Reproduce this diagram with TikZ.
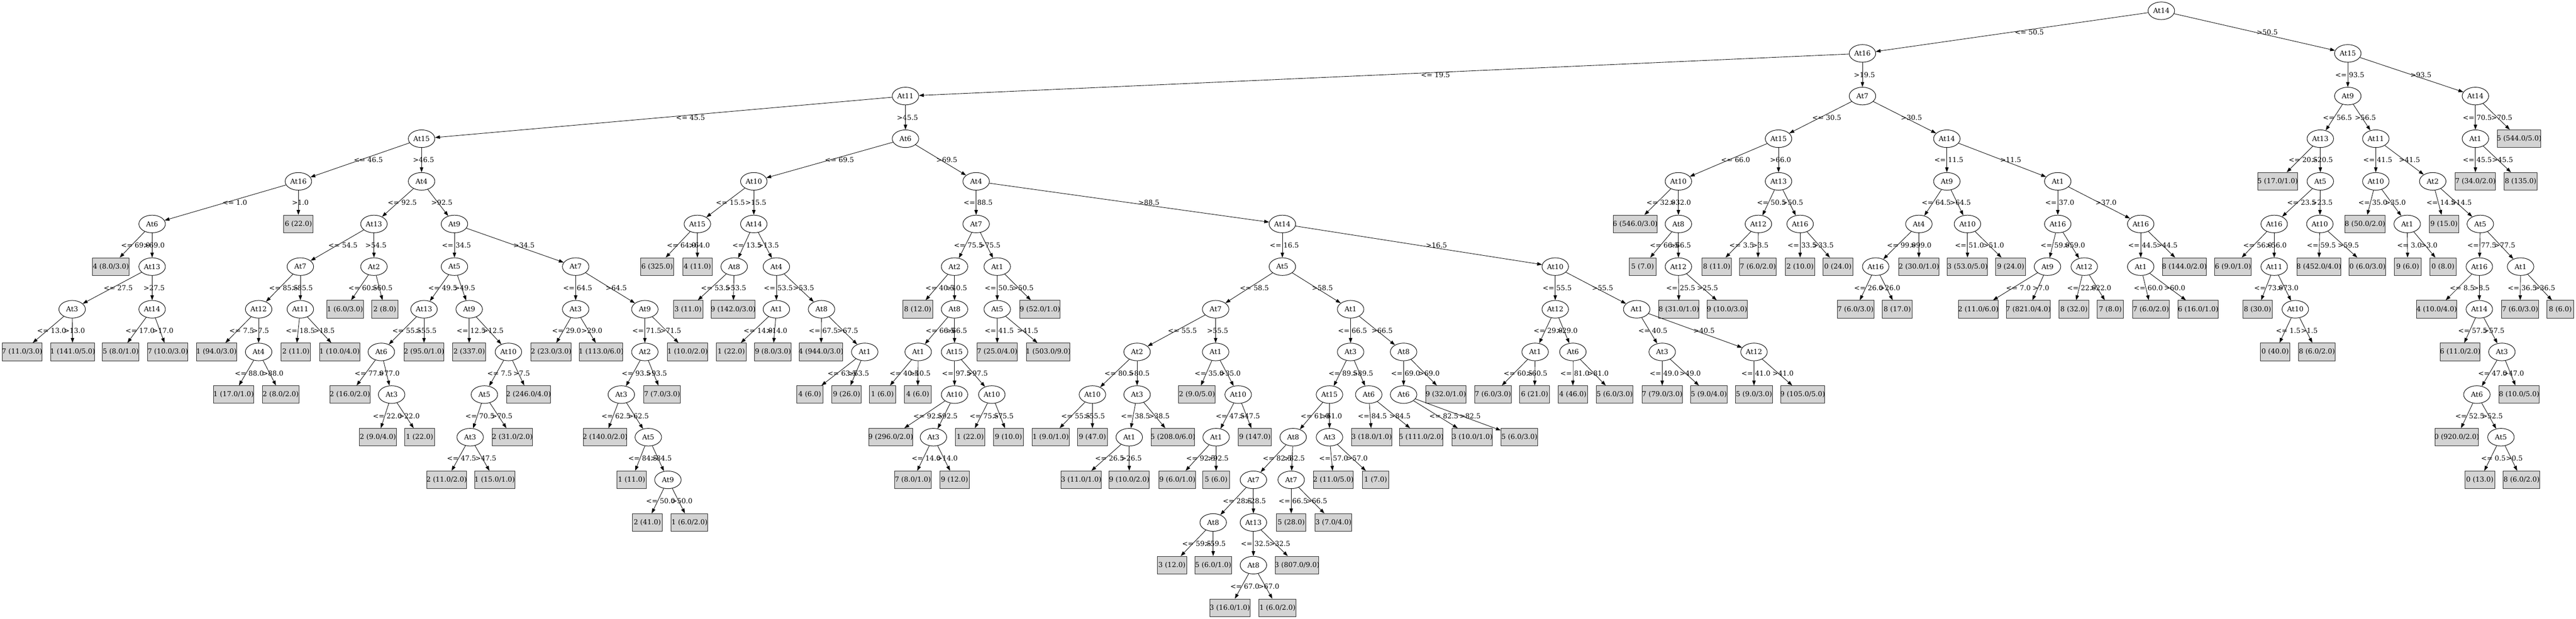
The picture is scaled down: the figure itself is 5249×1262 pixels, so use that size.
\documentclass[tikz,border=0pt]{standalone}
\usepackage{fontspec}
\setmainfont{DejaVu Serif}
\newfontfamily\tmsf{Liberation Serif}
\usetikzlibrary{shapes.geometric,arrows.meta}
\definecolor{lgray}{RGB}{211,211,211}
\newlength\mytw
\newlength\wLl
\newlength\wRl
\newdimen\xP \newdimen\yP \newdimen\xL \newdimen\yL \newdimen\xR
\newcommand\gvf{\fontsize{14}{16}\selectfont}
\newcommand\lf[1]{\settowidth\mytw{\gvf\tmsf #1}\makebox[\mytw][c]{#1}}
\newcommand\inod[4]{\node[inode] (#1) at (#2,{22+87*#3}) {#4};}
\newcommand\lnod[4]{\node[leafbox] (#1) at (#2,{22+87*#3}) {\lf{#4}};}
\newcommand\tedge[5]{%
 \settowidth\wLl{\gvf\tmsf #4}\settowidth\wRl{\gvf\tmsf #5}%
 \pgfextractx{\xP}{\pgfpointanchor{#1}{center}}%
 \pgfextracty{\yP}{\pgfpointanchor{#1}{center}}%
 \pgfextractx{\xL}{\pgfpointanchor{#2}{center}}%
 \pgfextracty{\yL}{\pgfpointanchor{#2}{center}}%
 \pgfextractx{\xR}{\pgfpointanchor{#3}{center}}%
 \pgfmathsetmacro\myym{(\yP+\yL)/2}%
 \pgfmathsetmacro\mydy{abs(\yP-\yL)}%
 \pgfmathsetmacro\mymR{(\xP+\xR)/2}%
 \pgfmathsetmacro\mymL{(\xP+\xL)/2}%
 \pgfmathsetmacro\mysL{abs(\xL-\xP)/\mydy}%
 \pgfmathsetmacro\mysR{abs(\xR-\xP)/\mydy}%
 \pgfmathsetmacro\mygL{ifthenelse(\xL>\xP,4+5*\mysL,4+4.5*\mysL)}%
 \pgfmathsetmacro\mygR{ifthenelse(\xR>\xP,4+5*\mysR,4+4.5*\mysR)}%
 \pgfmathsetmacro\myVL{min(\mymL,\mymR-7-\wLl-\mygL)}%
 \pgfmathsetmacro\mycL{\myVL+\mygL+\wLl/2}%
 \pgfmathsetmacro\mycR{\mymR+\mygR+\wRl/2}%
 \pgfmathsetmacro\myQx{2*\myVL-\mymL}%
 \draw[conn] (#1) .. controls (\myQx pt,\myym pt) .. (#2);
 \draw[conn] (#1) -- (#3);
 \node[elab] (#2l) at (\mycL pt,\myym pt) {#4};
 \node[elab] (#3l) at (\mycR pt,\myym pt) {#5};
}
\tikzset{
 inode/.style={ellipse, draw, line width=1pt, minimum width=54pt, minimum height=36pt, inner sep=0pt, fill=white},
 leafbox/.style={rectangle, draw=black!85, line width=1pt, fill=lgray, minimum width=54pt, minimum height=36pt, inner xsep=8pt, inner ysep=0pt},
 conn/.style={line width=0.9pt, -{Triangle[length=10pt,width=7pt]}},
 elab/.style={inner sep=0pt},
}
\begin{document}
\begin{tikzpicture}[x=1pt,y=-1pt,font=\gvf]
\useasboundingbox[fill=white] (0,0) rectangle (5249,1262);
% ---------- internal nodes ----------
\inod{r}{4404}{0}{At14}
\inod{a}{3795}{1}{At16}
\inod{b}{4784}{1}{At15}
\inod{b1}{4784}{2}{At9}
\inod{b2}{5044}{2}{At14}
\inod{b21}{5044}{3}{At1}
\inod{b11}{4728}{3}{At13}
\inod{b12}{4841}{3}{At11}
\inod{b112}{4728}{4}{At5}
\inod{c1}{4634}{5}{At16}
\inod{c2}{4727}{5}{At10}
\inod{c12}{4634}{6}{At11}
\inod{c122}{4677}{7}{At10}
\inod{d1}{4841}{4}{At10}
\inod{d2}{4957}{4}{At2}
\inod{d12}{4905}{5}{At1}
\inod{d22}{5054}{5}{At5}
\inod{e1}{5052}{6}{At16}
\inod{e2}{5136}{6}{At1}
\inod{e12}{5052}{7}{At14}
\inod{e122}{5098}{8}{At3}
\inod{e1221}{5047}{9}{At6}
\inod{f}{5096}{10}{At5}
\inod{a1}{1845}{2}{At11}
\inod{a2}{3795}{2}{At7}
\inod{g1}{3624}{3}{At15}
\inod{g2}{3967}{3}{At14}
\inod{g11}{3420}{4}{At10}
\inod{g12}{3624}{4}{At13}
\inod{g112}{3420}{5}{At8}
\inod{g1122}{3420}{6}{At12}
\inod{g121}{3583}{5}{At12}
\inod{g122}{3668}{5}{At16}
\inod{h1}{3967}{4}{At9}
\inod{h2}{4193}{4}{At1}
\inod{h11}{3910}{5}{At4}
\inod{h12}{4009}{5}{At10}
\inod{h111}{3822}{6}{At16}
\inod{h21}{4193}{5}{At16}
\inod{h22}{4362}{5}{At16}
\inod{h211}{4172}{6}{At9}
\inod{h212}{4247}{6}{At12}
\inod{h221}{4362}{6}{At1}
\inod{i1}{859}{3}{At15}
\inod{i2}{1845}{3}{At6}
\inod{j1}{608}{4}{At16}
\inod{j2}{859}{4}{At4}
\inod{j11}{310}{5}{At6}
\inod{j112}{310}{6}{At13}
\inod{j1121}{147}{7}{At3}
\inod{j1122}{310}{7}{At14}
\inod{k1}{762}{5}{At13}
\inod{k2}{926}{5}{At9}
\inod{k11}{612}{6}{At7}
\inod{k12}{762}{6}{At2}
\inod{k111}{527}{7}{At12}
\inod{k112}{612}{7}{At11}
\inod{k1112}{527}{8}{At4}
\inod{m1}{926}{6}{At5}
\inod{m2}{1173}{6}{At7}
\inod{m11}{864}{7}{At13}
\inod{m12}{956}{7}{At9}
\inod{m111}{777}{8}{At6}
\inod{m1112}{798}{9}{At3}
\inod{m122}{1036}{8}{At10}
\inod{m1221}{987}{9}{At5}
\inod{m12211}{958}{10}{At3}
\inod{m21}{1173}{7}{At3}
\inod{m22}{1314}{7}{At9}
\inod{m221}{1314}{8}{At2}
\inod{m2211}{1266}{9}{At3}
\inod{m22112}{1321}{10}{At5}
\inod{m221122}{1361}{11}{At9}
\inod{n1}{1536}{4}{At10}
\inod{n2}{1989}{4}{At4}
\inod{n11}{1421}{5}{At15}
\inod{n12}{1536}{5}{At14}
\inod{n121}{1496}{6}{At8}
\inod{n122}{1582}{6}{At4}
\inod{n1221}{1582}{7}{At1}
\inod{n1222}{1674}{7}{At8}
\inod{n12222}{1762}{8}{At1}
\inod{o1}{1989}{5}{At7}
\inod{o2}{2613}{5}{At14}
\inod{o11}{1945}{6}{At2}
\inod{o12}{2032}{6}{At1}
\inod{o112}{1945}{7}{At8}
\inod{o1121}{1871}{8}{At1}
\inod{o1122}{1945}{8}{At15}
\inod{p1}{1945}{9}{At10}
\inod{p2}{2021}{9}{At10}
\inod{p12}{1902}{10}{At3}
\inod{o121}{2032}{7}{At5}
\inod{q1}{2613}{6}{At5}
\inod{q2}{3169}{6}{At10}
\inod{q11}{2477}{7}{At7}
\inod{q12}{2752}{7}{At1}
\inod{q111}{2317}{8}{At2}
\inod{q112}{2477}{8}{At1}
\inod{q1111}{2226}{9}{At10}
\inod{q1112}{2317}{9}{At3}
\inod{q11121}{2301}{10}{At1}
\inod{q1122}{2523}{9}{At10}
\inod{q11221}{2478}{10}{At1}
\inod{q121}{2752}{8}{At3}
\inod{q122}{2860}{8}{At8}
\inod{q1211}{2709}{9}{At15}
\inod{q1212}{2789}{9}{At6}
\inod{q12111}{2635}{10}{At8}
\inod{q12112}{2709}{10}{At3}
\inod{r1}{2554}{11}{At7}
\inod{r2}{2631}{11}{At7}
\inod{r11}{2472}{12}{At8}
\inod{r12}{2554}{12}{At13}
\inod{r121}{2554}{13}{At8}
\inod{q1221}{2860}{9}{At6}
\inod{s1}{3169}{7}{At12}
\inod{s2}{3335}{7}{At1}
\inod{s11}{3128}{8}{At1}
\inod{s12}{3205}{8}{At6}
\inod{s21}{3387}{8}{At3}
\inod{s22}{3574}{8}{At12}
% ---------- leaves ----------
\lnod{b22}{5133}{3}{5 (544.0/5.0)}
\lnod{b211}{5044}{4}{7 (34.0/2.0)}
\lnod{b212}{5136}{4}{8 (135.0)}
\lnod{b111}{4641}{4}{5 (17.0/1.0)}
\lnod{c11}{4550}{6}{6 (9.0/1.0)}
\lnod{c121}{4600}{7}{8 (30.0)}
\lnod{c1221}{4636}{8}{0 (40.0)}
\lnod{c1222}{4721}{8}{8 (6.0/2.0)}
\lnod{c21}{4725}{6}{8 (452.0/4.0)}
\lnod{c22}{4824}{6}{0 (6.0/3.0)}
\lnod{d11}{4819}{5}{8 (50.0/2.0)}
\lnod{d121}{4906}{6}{9 (6.0)}
\lnod{d122}{4978}{6}{0 (8.0)}
\lnod{d21}{4980}{5}{9 (15.0)}
\lnod{e11}{4965}{7}{4 (10.0/4.0)}
\lnod{e121}{5013}{8}{6 (11.0/2.0)}
\lnod{e1222}{5133}{9}{8 (10.0/5.0)}
\lnod{e12211}{5006}{10}{0 (920.0/2.0)}
\lnod{f1}{5053}{11}{0 (13.0)}
\lnod{f2}{5138}{11}{8 (6.0/2.0)}
\lnod{e21}{5135}{7}{7 (6.0/3.0)}
\lnod{e22}{5217}{7}{8 (6.0)}
\lnod{g111}{3332}{5}{6 (546.0/3.0)}
\lnod{g1121}{3347}{6}{5 (7.0)}
\lnod{g11221}{3421}{7}{8 (31.0/1.0)}
\lnod{g11222}{3519}{7}{9 (10.0/3.0)}
\lnod{g1211}{3498}{6}{8 (11.0)}
\lnod{g1212}{3582}{6}{7 (6.0/2.0)}
\lnod{g1221}{3668}{6}{2 (10.0)}
\lnod{g1222}{3745}{6}{0 (24.0)}
\lnod{h112}{3910}{6}{2 (30.0/1.0)}
\lnod{h1111}{3781}{7}{7 (6.0/3.0)}
\lnod{h1112}{3866}{7}{8 (17.0)}
\lnod{h121}{4009}{6}{3 (53.0/5.0)}
\lnod{h122}{4097}{6}{9 (24.0)}
\lnod{h2111}{4031}{7}{2 (11.0/6.0)}
\lnod{h2112}{4133}{7}{7 (821.0/4.0)}
\lnod{h2121}{4226}{7}{8 (32.0)}
\lnod{h2122}{4300}{7}{7 (8.0)}
\lnod{h222}{4451}{6}{8 (144.0/2.0)}
\lnod{h2211}{4383}{7}{7 (6.0/2.0)}
\lnod{h2212}{4479}{7}{6 (16.0/1.0)}
\lnod{j12}{608}{5}{6 (22.0)}
\lnod{j111}{226}{6}{4 (8.0/3.0)}
\lnod{j11211}{45}{8}{7 (11.0/3.0)}
\lnod{j11212}{148}{8}{1 (141.0/5.0)}
\lnod{j11221}{246}{8}{5 (8.0/1.0)}
\lnod{j11222}{342}{8}{7 (10.0/3.0)}
\lnod{k1111}{441}{8}{1 (94.0/3.0)}
\lnod{k11121}{476}{9}{1 (17.0/1.0)}
\lnod{k11122}{572}{9}{2 (8.0/2.0)}
\lnod{k1121}{603}{8}{2 (11.0)}
\lnod{k1122}{692}{8}{1 (10.0/4.0)}
\lnod{k121}{703}{7}{1 (6.0/3.0)}
\lnod{k122}{784}{7}{2 (8.0)}
\lnod{m112}{864}{8}{2 (95.0/1.0)}
\lnod{m1111}{713}{9}{2 (16.0/2.0)}
\lnod{m11121}{770}{10}{2 (9.0/4.0)}
\lnod{m11122}{855}{10}{1 (22.0)}
\lnod{m121}{956}{8}{2 (337.0)}
\lnod{m1222}{1077}{9}{2 (246.0/4.0)}
\lnod{m12212}{1044}{10}{2 (31.0/2.0)}
\lnod{m122111}{910}{11}{2 (11.0/2.0)}
\lnod{m122112}{1008}{11}{1 (15.0/1.0)}
\lnod{m211}{1123}{8}{2 (23.0/3.0)}
\lnod{m212}{1225}{8}{1 (113.0/6.0)}
\lnod{m222}{1401}{8}{1 (10.0/2.0)}
\lnod{m2212}{1349}{9}{7 (7.0/3.0)}
\lnod{m22111}{1233}{10}{2 (140.0/2.0)}
\lnod{m221121}{1287}{11}{1 (11.0)}
\lnod{m2211221}{1319}{12}{2 (41.0)}
\lnod{m2211222}{1405}{12}{1 (6.0/2.0)}
\lnod{n111}{1339}{6}{6 (325.0)}
\lnod{n112}{1421}{6}{4 (11.0)}
\lnod{n1211}{1402}{7}{3 (11.0)}
\lnod{n1212}{1494}{7}{9 (142.0/3.0)}
\lnod{n12211}{1490}{8}{1 (22.0)}
\lnod{n12212}{1575}{8}{9 (8.0/3.0)}
\lnod{n12221}{1673}{8}{4 (944.0/3.0)}
\lnod{n122221}{1650}{9}{4 (6.0)}
\lnod{n122222}{1725}{9}{9 (26.0)}
\lnod{o111}{1870}{7}{8 (12.0)}
\lnod{o11211}{1798}{9}{1 (6.0)}
\lnod{o11212}{1870}{9}{4 (6.0)}
\lnod{p11}{1815}{10}{9 (296.0/2.0)}
\lnod{p121}{1860}{11}{7 (8.0/1.0)}
\lnod{p122}{1945}{11}{9 (12.0)}
\lnod{p21}{1977}{10}{1 (22.0)}
\lnod{p22}{2055}{10}{9 (10.0)}
\lnod{o122}{2119}{7}{9 (52.0/1.0)}
\lnod{o1211}{2032}{8}{7 (25.0/4.0)}
\lnod{o1212}{2136}{8}{1 (503.0/9.0)}
\lnod{q11111}{2141}{10}{1 (9.0/1.0)}
\lnod{q11112}{2226}{10}{9 (47.0)}
\lnod{q11122}{2390}{10}{5 (208.0/6.0)}
\lnod{q111211}{2203}{11}{3 (11.0/1.0)}
\lnod{q111212}{2301}{11}{9 (10.0/2.0)}
\lnod{q1121}{2439}{9}{2 (9.0/5.0)}
\lnod{q11222}{2557}{10}{9 (147.0)}
\lnod{q112211}{2399}{11}{9 (6.0/1.0)}
\lnod{q112212}{2478}{11}{5 (6.0)}
\lnod{r111}{2388}{13}{3 (12.0)}
\lnod{r112}{2472}{13}{5 (6.0/1.0)}
\lnod{r122}{2643}{13}{3 (807.0/9.0)}
\lnod{r1211}{2506}{14}{3 (16.0/1.0)}
\lnod{r1212}{2603}{14}{1 (6.0/2.0)}
\lnod{r21}{2631}{12}{5 (28.0)}
\lnod{r22}{2717}{12}{3 (7.0/4.0)}
\lnod{q121121}{2717}{11}{2 (11.0/5.0)}
\lnod{q121122}{2803}{11}{1 (7.0)}
\lnod{q12121}{2795}{10}{3 (18.0/1.0)}
\lnod{q12122}{2896}{10}{5 (111.0/2.0)}
\lnod{q12211}{3000}{10}{3 (10.0/1.0)}
\lnod{q12212}{3096}{10}{5 (6.0/3.0)}
\lnod{q1222}{2946}{9}{9 (32.0/1.0)}
\lnod{s111}{3042}{9}{7 (6.0/3.0)}
\lnod{s112}{3127}{9}{6 (21.0)}
\lnod{s121}{3205}{9}{4 (46.0)}
\lnod{s122}{3290}{9}{5 (6.0/3.0)}
\lnod{s211}{3387}{9}{7 (79.0/3.0)}
\lnod{s212}{3482}{9}{5 (9.0/4.0)}
\lnod{s221}{3574}{9}{5 (9.0/3.0)}
\lnod{s222}{3673}{9}{9 (105.0/5.0)}
% ---------- connectors ----------
\tedge{r}{a}{b}{<= 50.5}{>50.5}
\tedge{b}{b1}{b2}{<= 93.5}{>93.5}
\tedge{b2}{b21}{b22}{<= 70.5}{>70.5}
\tedge{b21}{b211}{b212}{<= 45.5}{>45.5}
\tedge{b1}{b11}{b12}{<= 56.5}{>56.5}
\tedge{b11}{b111}{b112}{<= 20.5}{>20.5}
\tedge{b112}{c1}{c2}{<= 23.5}{>23.5}
\tedge{c1}{c11}{c12}{<= 56.0}{>56.0}
\tedge{c12}{c121}{c122}{<= 73.0}{>73.0}
\tedge{c122}{c1221}{c1222}{<= 1.5}{>1.5}
\tedge{c2}{c21}{c22}{<= 59.5}{>59.5}
\tedge{b12}{d1}{d2}{<= 41.5}{>41.5}
\tedge{d1}{d11}{d12}{<= 35.0}{>35.0}
\tedge{d12}{d121}{d122}{<= 3.0}{>3.0}
\tedge{d2}{d21}{d22}{<= 14.5}{>14.5}
\tedge{d22}{e1}{e2}{<= 77.5}{>77.5}
\tedge{e1}{e11}{e12}{<= 8.5}{>8.5}
\tedge{e12}{e121}{e122}{<= 57.5}{>57.5}
\tedge{e122}{e1221}{e1222}{<= 47.0}{>47.0}
\tedge{e1221}{e12211}{f}{<= 52.5}{>52.5}
\tedge{f}{f1}{f2}{<= 0.5}{>0.5}
\tedge{e2}{e21}{e22}{<= 36.5}{>36.5}
\tedge{a}{a1}{a2}{<= 19.5}{>19.5}
\tedge{a2}{g1}{g2}{<= 30.5}{>30.5}
\tedge{g1}{g11}{g12}{<= 66.0}{>66.0}
\tedge{g11}{g111}{g112}{<= 32.0}{>32.0}
\tedge{g112}{g1121}{g1122}{<= 66.5}{>66.5}
\tedge{g1122}{g11221}{g11222}{<= 25.5}{>25.5}
\tedge{g12}{g121}{g122}{<= 50.5}{>50.5}
\tedge{g121}{g1211}{g1212}{<= 3.5}{>3.5}
\tedge{g122}{g1221}{g1222}{<= 33.5}{>33.5}
\tedge{g2}{h1}{h2}{<= 11.5}{>11.5}
\tedge{h1}{h11}{h12}{<= 64.5}{>64.5}
\tedge{h11}{h111}{h112}{<= 99.0}{>99.0}
\tedge{h111}{h1111}{h1112}{<= 26.0}{>26.0}
\tedge{h12}{h121}{h122}{<= 51.0}{>51.0}
\tedge{h2}{h21}{h22}{<= 37.0}{>37.0}
\tedge{h21}{h211}{h212}{<= 59.0}{>59.0}
\tedge{h211}{h2111}{h2112}{<= 7.0}{>7.0}
\tedge{h212}{h2121}{h2122}{<= 22.0}{>22.0}
\tedge{h22}{h221}{h222}{<= 44.5}{>44.5}
\tedge{h221}{h2211}{h2212}{<= 60.0}{>60.0}
\tedge{a1}{i1}{i2}{<= 45.5}{>45.5}
\tedge{i1}{j1}{j2}{<= 46.5}{>46.5}
\tedge{j1}{j11}{j12}{<= 1.0}{>1.0}
\tedge{j11}{j111}{j112}{<= 69.0}{>69.0}
\tedge{j112}{j1121}{j1122}{<= 27.5}{>27.5}
\tedge{j1121}{j11211}{j11212}{<= 13.0}{>13.0}
\tedge{j1122}{j11221}{j11222}{<= 17.0}{>17.0}
\tedge{j2}{k1}{k2}{<= 92.5}{>92.5}
\tedge{k1}{k11}{k12}{<= 54.5}{>54.5}
\tedge{k11}{k111}{k112}{<= 85.5}{>85.5}
\tedge{k111}{k1111}{k1112}{<= 7.5}{>7.5}
\tedge{k1112}{k11121}{k11122}{<= 88.0}{>88.0}
\tedge{k112}{k1121}{k1122}{<= 18.5}{>18.5}
\tedge{k12}{k121}{k122}{<= 60.5}{>60.5}
\tedge{k2}{m1}{m2}{<= 34.5}{>34.5}
\tedge{m1}{m11}{m12}{<= 49.5}{>49.5}
\tedge{m11}{m111}{m112}{<= 55.5}{>55.5}
\tedge{m111}{m1111}{m1112}{<= 77.0}{>77.0}
\tedge{m1112}{m11121}{m11122}{<= 22.0}{>22.0}
\tedge{m12}{m121}{m122}{<= 12.5}{>12.5}
\tedge{m122}{m1221}{m1222}{<= 7.5}{>7.5}
\tedge{m1221}{m12211}{m12212}{<= 70.5}{>70.5}
\tedge{m12211}{m122111}{m122112}{<= 47.5}{>47.5}
\tedge{m2}{m21}{m22}{<= 64.5}{>64.5}
\tedge{m21}{m211}{m212}{<= 29.0}{>29.0}
\tedge{m22}{m221}{m222}{<= 71.5}{>71.5}
\tedge{m221}{m2211}{m2212}{<= 93.5}{>93.5}
\tedge{m2211}{m22111}{m22112}{<= 62.5}{>62.5}
\tedge{m22112}{m221121}{m221122}{<= 84.5}{>84.5}
\tedge{m221122}{m2211221}{m2211222}{<= 50.0}{>50.0}
\tedge{i2}{n1}{n2}{<= 69.5}{>69.5}
\tedge{n1}{n11}{n12}{<= 15.5}{>15.5}
\tedge{n11}{n111}{n112}{<= 64.0}{>64.0}
\tedge{n12}{n121}{n122}{<= 13.5}{>13.5}
\tedge{n121}{n1211}{n1212}{<= 53.5}{>53.5}
\tedge{n122}{n1221}{n1222}{<= 53.5}{>53.5}
\tedge{n1221}{n12211}{n12212}{<= 14.0}{>14.0}
\tedge{n1222}{n12221}{n12222}{<= 67.5}{>67.5}
\tedge{n12222}{n122221}{n122222}{<= 63.5}{>63.5}
\tedge{n2}{o1}{o2}{<= 88.5}{>88.5}
\tedge{o1}{o11}{o12}{<= 75.5}{>75.5}
\tedge{o11}{o111}{o112}{<= 40.5}{>40.5}
\tedge{o112}{o1121}{o1122}{<= 66.5}{>66.5}
\tedge{o1121}{o11211}{o11212}{<= 40.5}{>40.5}
\tedge{o1122}{p1}{p2}{<= 97.5}{>97.5}
\tedge{p1}{p11}{p12}{<= 92.5}{>92.5}
\tedge{p12}{p121}{p122}{<= 14.0}{>14.0}
\tedge{p2}{p21}{p22}{<= 75.5}{>75.5}
\tedge{o12}{o121}{o122}{<= 50.5}{>50.5}
\tedge{o121}{o1211}{o1212}{<= 41.5}{>41.5}
\tedge{o2}{q1}{q2}{<= 16.5}{>16.5}
\tedge{q1}{q11}{q12}{<= 58.5}{>58.5}
\tedge{q11}{q111}{q112}{<= 55.5}{>55.5}
\tedge{q111}{q1111}{q1112}{<= 80.5}{>80.5}
\tedge{q1111}{q11111}{q11112}{<= 55.5}{>55.5}
\tedge{q1112}{q11121}{q11122}{<= 38.5}{>38.5}
\tedge{q11121}{q111211}{q111212}{<= 26.5}{>26.5}
\tedge{q112}{q1121}{q1122}{<= 35.0}{>35.0}
\tedge{q1122}{q11221}{q11222}{<= 47.5}{>47.5}
\tedge{q11221}{q112211}{q112212}{<= 92.5}{>92.5}
\tedge{q12}{q121}{q122}{<= 66.5}{>66.5}
\tedge{q121}{q1211}{q1212}{<= 89.5}{>89.5}
\tedge{q1211}{q12111}{q12112}{<= 61.0}{>61.0}
\tedge{q12111}{r1}{r2}{<= 82.5}{>82.5}
\tedge{r1}{r11}{r12}{<= 28.5}{>28.5}
\tedge{r11}{r111}{r112}{<= 59.5}{>59.5}
\tedge{r12}{r121}{r122}{<= 32.5}{>32.5}
\tedge{r121}{r1211}{r1212}{<= 67.0}{>67.0}
\tedge{r2}{r21}{r22}{<= 66.5}{>66.5}
\tedge{q12112}{q121121}{q121122}{<= 57.0}{>57.0}
\tedge{q1212}{q12121}{q12122}{<= 84.5}{>84.5}
\tedge{q122}{q1221}{q1222}{<= 69.0}{>69.0}
\tedge{q1221}{q12211}{q12212}{<= 82.5}{>82.5}
\tedge{q2}{s1}{s2}{<= 55.5}{>55.5}
\tedge{s1}{s11}{s12}{<= 29.0}{>29.0}
\tedge{s11}{s111}{s112}{<= 60.5}{>60.5}
\tedge{s12}{s121}{s122}{<= 81.0}{>81.0}
\tedge{s2}{s21}{s22}{<= 40.5}{>40.5}
\tedge{s21}{s211}{s212}{<= 49.0}{>49.0}
\tedge{s22}{s221}{s222}{<= 41.0}{>41.0}
\end{tikzpicture}
\end{document}
